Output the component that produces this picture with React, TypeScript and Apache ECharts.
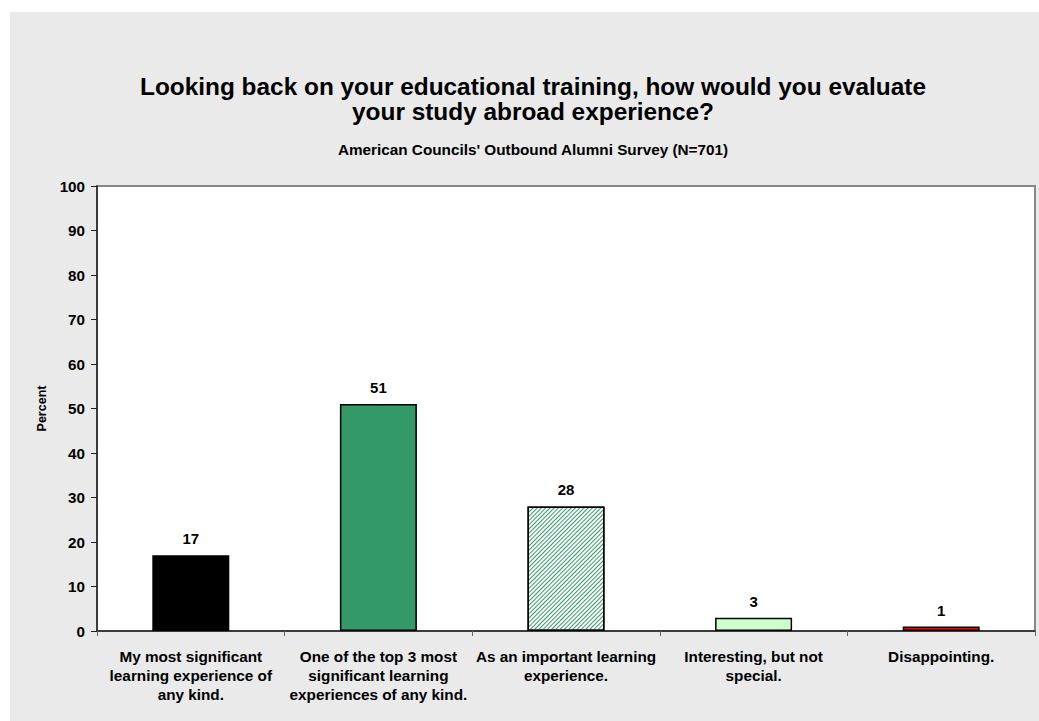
import React, { useEffect, useRef } from "react";
import * as echarts from "echarts";

const titleLines = "Looking back on your educational training, how would you evaluate\nyour study abroad experience?";
const subtitle = "American Councils' Outbound Alumni Survey (N=701)";
const categories = [
  "My most significant\nlearning experience of\nany kind.",
  "One of the top 3 most\nsignificant learning\nexperiences of any kind.",
  "As an important learning\nexperience.",
  "Interesting, but not\nspecial.",
  "Disappointing.",
];
const values = [17, 51, 28, 3, 1];
const barColors = ["#000000", "#339966", "#ffffff", "#ccffcc", "#ff0000"];
const yTicks = { min: 0, max: 100, interval: 10 };
const yName = "Percent";

export default function App() {
  const ref = useRef<HTMLDivElement>(null);
  useEffect(() => {
    const chart = echarts.init(ref.current!, null, { renderer: "svg" });
    const font = "Liberation Sans, Arial, sans-serif";
    chart.setOption({
      animation: false,
      backgroundColor: "#eaeaea",
      textStyle: { fontFamily: font },
      title: [
        {
          text: titleLines,
          left: 518,
          top: 57,
          textAlign: "center",
          textStyle: { fontSize: 24.4, fontWeight: "bold", color: "#000", lineHeight: 25, fontFamily: font },
        },
        {
          text: subtitle,
          left: 518,
          top: 123,
          textAlign: "center",
          textStyle: { fontSize: 15.3, fontWeight: "bold", color: "#000", lineHeight: 18, fontFamily: font },
        },
      ],
      grid: {
        left: 87,
        top: 174,
        right: 4,
        bottom: 90,
        show: true,
        backgroundColor: "#ffffff",
        borderColor: "#888888",
        borderWidth: 2,
      },
      xAxis: {
        type: "category",
        data: categories,
        axisLine: { lineStyle: { color: "#222", width: 1.5 } },
        axisTick: { show: true, length: 5, lineStyle: { color: "#666" } },
        axisLabel: {
          interval: 0,
          color: "#000",
          fontWeight: "bold",
          fontSize: 15.3,
          lineHeight: 19,
          margin: 16,
          fontFamily: font,
        },
      },
      yAxis: {
        type: "value",
        min: yTicks.min,
        max: yTicks.max,
        interval: yTicks.interval,
        name: yName,
        nameLocation: "middle",
        nameGap: 49,
        nameTextStyle: { fontWeight: "bold", fontSize: 12.5, color: "#000", fontFamily: font },
        splitLine: { show: false },
        axisLine: { show: true, lineStyle: { color: "#222", width: 1.5 } },
        axisTick: { show: true, length: 6, lineStyle: { color: "#222" } },
        axisLabel: { color: "#000", fontWeight: "bold", fontSize: 15.2, margin: 12, fontFamily: font },
      },
      series: [
        {
          type: "bar",
          barWidth: 77,
          data: values.map((v, i) => ({
            value: v,
            itemStyle: {
              color: barColors[i],
              borderColor: "#000",
              borderWidth: 1.5,
              decal:
                i === 2
                  ? {
                      symbol: "rect",
                      symbolSize: 1,
                      color: "#339966",
                      dashArrayX: [1, 0],
                      dashArrayY: [1, 1.3],
                      rotation: -Math.PI / 4,
                    }
                  : "none",
            },
          })),
          label: {
            show: true,
            position: "top",
            distance: 9,
            color: "#000",
            fontWeight: "bold",
            fontSize: 15,
            fontFamily: font,
          },
        },
      ],
    });
    return () => chart.dispose();
  }, []);
  return (
    <div
      ref={ref}
      style={{ position: "absolute", left: 10, top: 12, width: 1029, height: 709 }}
    />
  );
}
